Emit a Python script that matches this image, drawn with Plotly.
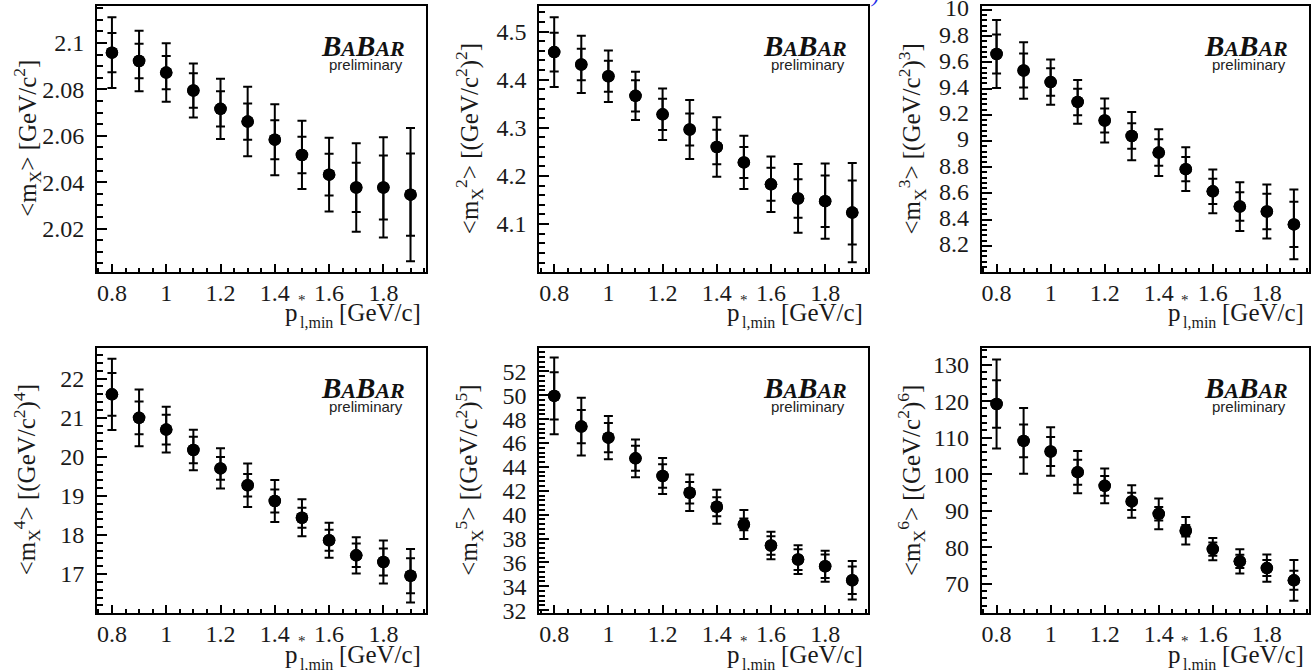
import plotly.graph_objects as go

# lower cut on the lepton momentum in the B rest frame [GeV/c]
p_min = [0.8, 0.9, 1.0, 1.1, 1.2, 1.3, 1.4, 1.5, 1.6, 1.7, 1.8, 1.9]

# <m_X^n> moments, statistical error and total error
m1 = [2.0958, 2.0922, 2.0872, 2.0795, 2.0716, 2.0661, 2.0583, 2.0517, 2.0432, 2.0377, 2.0377, 2.0346]
m1_stat = [0.0085, 0.0074, 0.0072, 0.0074, 0.0076, 0.0078, 0.0084, 0.0079, 0.0090, 0.0106, 0.0138, 0.0177]
m1_tot = [0.0152, 0.0130, 0.0126, 0.0116, 0.0130, 0.0150, 0.0153, 0.0147, 0.0159, 0.0191, 0.0216, 0.0287]

m2 = [4.4573, 4.4315, 4.4070, 4.3664, 4.3280, 4.2965, 4.2601, 4.2280, 4.1825, 4.1531, 4.1476, 4.1238]
m2_stat = [0.0402, 0.0325, 0.0322, 0.0325, 0.0325, 0.0333, 0.0357, 0.0322, 0.0343, 0.0402, 0.0535, 0.0665]
m2_tot = [0.0724, 0.0595, 0.0535, 0.0500, 0.0535, 0.0612, 0.0616, 0.0553, 0.0577, 0.0714, 0.0780, 0.1032]

m3 = [9.6641, 9.5379, 9.4495, 9.2980, 9.1566, 9.0379, 8.9116, 8.7854, 8.6162, 8.5000, 8.4621, 8.3636]
m3_stat = [0.149, 0.130, 0.105, 0.101, 0.092, 0.097, 0.101, 0.093, 0.096, 0.109, 0.135, 0.173]
m3_tot = [0.259, 0.215, 0.173, 0.167, 0.167, 0.184, 0.179, 0.167, 0.167, 0.186, 0.206, 0.266]

m4 = [21.597, 20.997, 20.696, 20.173, 19.702, 19.273, 18.870, 18.441, 17.866, 17.480, 17.309, 16.957]
m4_stat = [0.549, 0.420, 0.382, 0.339, 0.292, 0.288, 0.292, 0.257, 0.270, 0.300, 0.348, 0.450]
m4_tot = [0.910, 0.725, 0.584, 0.519, 0.515, 0.558, 0.536, 0.472, 0.450, 0.463, 0.549, 0.686]

m5 = [49.944, 47.371, 46.448, 44.713, 43.231, 41.832, 40.657, 39.175, 37.413, 36.238, 35.678, 34.503]
m5_stat = [1.972, 1.385, 1.230, 1.049, 0.979, 0.909, 0.797, 0.490, 0.770, 0.867, 0.979, 1.147]
m5_tot = [3.217, 2.420, 1.818, 1.580, 1.510, 1.538, 1.427, 1.217, 1.147, 1.203, 1.300, 1.608]

m6 = [119.23, 109.12, 106.20, 100.55, 96.81, 92.53, 89.15, 84.50, 79.49, 76.12, 74.29, 70.92]
m6_stat = [6.48, 4.47, 3.97, 3.42, 2.69, 2.37, 1.83, 1.60, 1.82, 1.83, 2.19, 2.60]
m6_tot = [12.17, 9.03, 6.66, 5.79, 4.74, 4.47, 4.20, 3.78, 3.06, 3.33, 3.74, 5.56]

y_titles = [
    "&lt;m<sub>X</sub>&gt; [GeV/c<sup>2</sup>]",
    "&lt;m<sub>X</sub><sup>2</sup>&gt; [(GeV/c<sup>2</sup>)<sup>2</sup>]",
    "&lt;m<sub>X</sub><sup>3</sup>&gt; [(GeV/c<sup>2</sup>)<sup>3</sup>]",
    "&lt;m<sub>X</sub><sup>4</sup>&gt; [(GeV/c<sup>2</sup>)<sup>4</sup>]",
    "&lt;m<sub>X</sub><sup>5</sup>&gt; [(GeV/c<sup>2</sup>)<sup>5</sup>]",
    "&lt;m<sub>X</sub><sup>6</sup>&gt; [(GeV/c<sup>2</sup>)<sup>6</sup>]",
]
# x title pieces: symbol, star superscript, subscript and unit
x_sym, x_star, x_sub, x_unit = "p", "*", "l,min", "[GeV/c]"
logo = "<b><i>B<span style='font-size:22px'>A</span>B<span style='font-size:22px'>AR</span></i></b>"
logo_sub = "preliminary"

moments = [(m1, m1_stat, m1_tot), (m2, m2_stat, m2_tot), (m3, m3_stat, m3_tot),
           (m4, m4_stat, m4_tot), (m5, m5_stat, m5_tot), (m6, m6_stat, m6_tot)]

# axis styling per panel: (range, major step, minor step, label shift)
y_axes = [
    ([2.0014, 2.1159], 0.02, 0.005, 0),
    ([4.001, 4.553], 0.1, 0.02, 0),
    ([8.003, 10.03], 0.2, 0.04, -2),
    ([16.005, 22.79], 1, 0.2, 0),
    ([31.76, 53.98], 2, 0.4, 0),
    ([61.98, 134.64], 10, 2, 0),
]

W, H = 1311, 670
col_px = [(97, 426), (539.3, 867.7), (981.7, 1309.3)]
row_px = [(6, 271.7), (347.7, 613)]

SERIF = "Liberation Serif, 'Times New Roman', Times, 'DejaVu Serif', serif"
SANS = "'Liberation Sans', Arial, Helvetica, sans-serif"
INK = "#1a1a1a"

fig = go.Figure()
layout = dict(
    width=W, height=H, margin=dict(l=0, r=0, t=0, b=0, autoexpand=False),
    paper_bgcolor="white", plot_bgcolor="white", showlegend=False,
    font=dict(family=SERIF, size=24, color=INK),
)
annotations = []


def label(text, xd, yd, x, y, xs, ys, xa, size, family=SERIF, color=INK, **kw):
    return dict(text=text, xref=xd, yref=yd, x=x, y=y, xshift=xs, yshift=ys,
                xanchor=xa, yanchor="middle", showarrow=False,
                font=dict(family=family, size=size, color=color), **kw)


for i, (vals, stat, tot) in enumerate(moments):
    n = i + 1
    r, c = divmod(i, 3)
    xs = "" if n == 1 else str(n)
    x0, x1 = col_px[c]
    y0, y1 = row_px[r]
    yr, ydt, ymin, yshift = y_axes[i]

    # total error bars, then statistical error ticks on top
    for err in (tot, stat):
        fig.add_trace(go.Scatter(
            x=p_min, y=vals, mode="markers",
            xaxis="x" + xs, yaxis="y" + xs,
            marker=dict(symbol="circle", size=12.5, color="black"),
            error_y=dict(type="data", array=err, visible=True,
                         color="black", thickness=2, width=4.5),
            hoverinfo="x+y",
        ))

    layout["xaxis" + xs] = dict(
        domain=[x0 / W, x1 / W], anchor="y" + xs, range=[0.745, 1.957],
        automargin=False,
        showline=True, linecolor="black", linewidth=2, mirror=True,
        showgrid=False, zeroline=False,
        ticks="inside", ticklen=8, tickwidth=1.5, tickcolor="black",
        tickmode="linear", tick0=0, dtick=0.2,
        minor=dict(ticks="inside", ticklen=4, tickwidth=1.5, tickcolor="black",
                   tick0=0, dtick=0.05, showgrid=False),
        tickfont=dict(family=SERIF, size=24, color=INK),
        ticklabelstandoff=-2,
    )
    layout["yaxis" + xs] = dict(
        domain=[1 - y1 / H, 1 - y0 / H], anchor="x" + xs, range=yr,
        automargin=False,
        showline=True, linecolor="black", linewidth=2, mirror=True,
        showgrid=False, zeroline=False,
        ticks="inside", ticklen=10, tickwidth=1.5, tickcolor="black",
        tickmode="linear", tick0=0, dtick=ydt,
        minor=dict(ticks="inside", ticklen=5.5, tickwidth=1.5, tickcolor="black",
                   tick0=0, dtick=ymin, showgrid=False),
        tickfont=dict(family=SERIF, size=24, color=INK),
        ticklabelstandoff=6, ticklabelshift=yshift, ticklabeloverflow="allow",
    )

    xd, yd = "x" + xs + " domain", "y" + xs + " domain"
    # vertical axis title
    annotations.append(label(y_titles[i], xd, yd, 0, 0.5, -70, 0, "center", 25,
                             textangle=-90))
    # horizontal axis title, star stacked over the subscript
    annotations.append(label(x_unit, xd, yd, 1, 0, -3, -41, "right", 25))
    annotations.append(label(x_sub, xd, yd, 1, 0, -91, -51, "right", 16))
    annotations.append(label(x_sym, xd, yd, 1, 0, -126, -41, "right", 25))
    annotations.append(label(x_star, xd, yd, 1, 0, -124, -28, "center", 15))
    # experiment label
    annotations.append(label(logo, xd, yd, 1, 1, -19, -40, "right", 29,
                             color="#111111"))
    annotations.append(label(logo_sub, xd, yd, 1, 1, -21, -59, "right", 15,
                             family=SANS, color="#222222"))

# stray blue glyph at the top edge
annotations.append(label("<i>)</i>", "paper", "paper", 874 / W, 1.0, 0, 6,
                         "center", 22, color="#1f2ee8"))

layout["annotations"] = annotations
fig.update_layout(**layout)
fig.write_html("out.html")
